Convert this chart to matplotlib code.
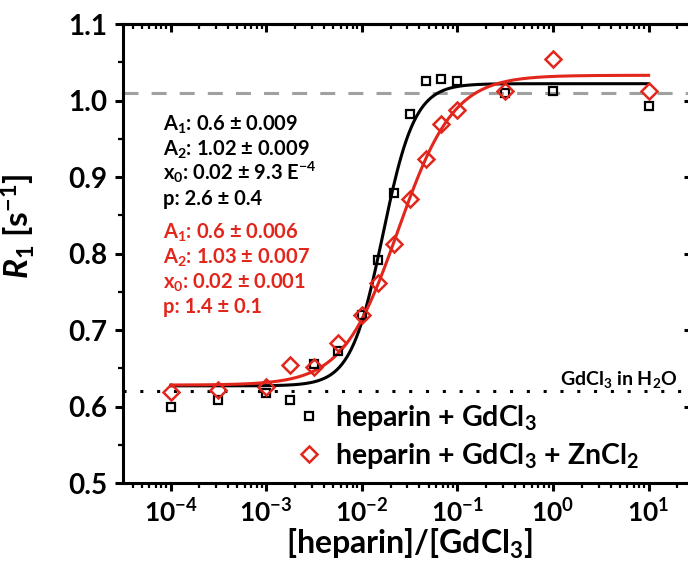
import matplotlib
matplotlib.use("Agg")
import matplotlib.pyplot as plt
from matplotlib.ticker import LogLocator, FixedLocator, MultipleLocator, FuncFormatter, NullFormatter
import numpy as np

plt.rcParams['font.family'] = ['Lato', 'DejaVu Sans']
plt.rcParams['font.weight'] = 'bold'
plt.rcParams['axes.labelweight'] = 'bold'
plt.rcParams['mathtext.fontset'] = 'custom'
plt.rcParams['mathtext.rm'] = 'Lato:bold'
plt.rcParams['mathtext.bf'] = 'Lato:bold'
plt.rcParams['mathtext.it'] = 'Lato:bold:italic'
plt.rcParams['mathtext.default'] = 'bf'

# Step 1: data
ratio = [1e-4, 3.16e-4, 1e-3, 1.78e-3, 3.16e-3, 5.62e-3, 0.01, 0.0147,
         0.0215, 0.0316, 0.0464, 0.0681, 0.1, 0.316, 1.0, 10.0]
r1_gd = [0.600, 0.609, 0.618, 0.609, 0.655, 0.672, 0.720, 0.792,
         0.879, 0.982, 1.025, 1.028, 1.025, 1.010, 1.013, 0.993]
r1_gd_zn = [0.619, 0.622, 0.626, 0.654, 0.651, 0.683, 0.720, 0.761,
            0.812, 0.871, 0.924, 0.969, 0.988, 1.012, 1.054, 1.013]

# fit parameters (A1, A2, x0, p) of the logistic curves
fit_gd = (0.627, 1.022, 0.0166, 2.6)
fit_gd_zn = (0.628, 1.033, 0.024, 1.5)

level_h2o = 0.62
level_top = 1.01

text_gd = [r'$A_1$: 0.6 ± 0.009', r'$A_2$: 1.02 ± 0.009',
           r'$x_0$: 0.02 ± 9.3 E$^{-4}$', 'p: 2.6 ± 0.4']
text_gd_zn = [r'$A_1$: 0.6 ± 0.006', r'$A_2$: 1.03 ± 0.007',
              r'$x_0$: 0.02 ± 0.001', 'p: 1.4 ± 0.1']

red = '#e2261c'


def logistic(x, a1, a2, x0, p):
    return a2 + (a1 - a2) / (1 + (x / x0) ** p)


# Step 2: plot
fig = plt.figure(figsize=(6.88, 5.64), dpi=100)
ax = fig.add_axes([0.1785, 0.1436, 0.8337, 0.8138])

ax.axhline(level_top, color='#a0a0a0', lw=2.2, ls=(0, (4.9, 4.3)), zorder=1)
ax.axhline(level_h2o, color='black', lw=2.2, ls=(0, (1, 4.5)), zorder=1)

xs = np.logspace(-4, 1, 400)
ax.plot(xs, logistic(xs, *fit_gd), color='black', lw=2.2, zorder=2)
ax.plot(xs, logistic(xs, *fit_gd_zn), color=red, lw=2.2, zorder=2)

ax.plot(ratio, r1_gd, ls='none', marker='s', ms=6, mfc='none', mec='black',
        mew=1.6, label=r'heparin + GdCl$_3$', zorder=3)
ax.plot(ratio, r1_gd_zn, ls='none', marker='D', ms=8, mfc='none', mec=red,
        mew=1.8, label=r'heparin + GdCl$_3$ + ZnCl$_2$', zorder=4)

ax.set_xscale('log')
ax.set_xlim(10 ** -4.5, 10 ** 1.5)
ax.set_ylim(0.5, 1.1)

ax.xaxis.set_major_locator(FixedLocator([1e-4, 1e-3, 1e-2, 1e-1, 1, 10]))
ax.xaxis.set_minor_locator(LogLocator(base=10, subs=np.arange(2, 10), numticks=20))
ax.xaxis.set_minor_formatter(NullFormatter())
ax.xaxis.set_major_formatter(FuncFormatter(lambda v, pos: r'$10^{%d}$' % round(np.log10(v))))
ax.yaxis.set_major_locator(MultipleLocator(0.1))
ax.yaxis.set_minor_locator(MultipleLocator(0.05))
ax.yaxis.set_major_formatter(FuncFormatter(lambda v, pos: '%.1f' % v))

for s in ax.spines.values():
    s.set_linewidth(2.2)

ax.tick_params(axis='both', which='major', direction='out', length=6, width=2.2, pad=5)
ax.tick_params(axis='both', which='minor', direction='out', length=3.5, width=1.6)
ax.tick_params(axis='x', labelsize=19)
ax.tick_params(axis='y', labelsize=20)

top = ax.secondary_xaxis('top')
top.set_xticks([1e-4, 1e-3, 1e-2, 1e-1, 1, 10])
top.xaxis.set_minor_locator(LogLocator(base=10, subs=np.arange(2, 10), numticks=20))
top.tick_params(which='major', direction='in', length=6, width=2.2, labeltop=False)
top.tick_params(which='minor', direction='in', length=3.5, width=1.6)
top.spines['top'].set_linewidth(2.2)

right = ax.secondary_yaxis('right')
right.set_yticks([0.5, 0.6, 0.7, 0.8, 0.9, 1.0, 1.1])
right.tick_params(direction='in', length=9, width=2.2, labelright=False)
right.spines['right'].set_linewidth(2.2)

ax.set_xlabel(r'[heparin]/[GdCl$_3$]', fontsize=23, labelpad=0)
ax.set_ylabel(r'$\mathit{R}_1$ [s$^{-1}$]', fontsize=24)
ax.yaxis.set_label_coords(-0.15, 0.56)

# fit parameter boxes
y_gd = [0.767, 0.7135, 0.660, 0.6057]
y_zn = [0.5316, 0.4786, 0.4242, 0.3697]
for s, yy in zip(text_gd, y_gd):
    ax.text(0.0697, yy, s, transform=ax.transAxes, fontsize=14.5, color='black', va='baseline')
for s, yy in zip(text_gd_zn, y_zn):
    ax.text(0.0697, yy, s, transform=ax.transAxes, fontsize=14.5, color=red, va='baseline')

ax.text(0.968, 0.214, r'GdCl$_3$ in H$_2$O', transform=ax.transAxes, fontsize=14,
        ha='right', va='baseline')

ax.legend(loc='upper left', bbox_to_anchor=(0.28, 0.205), frameon=False, fontsize=20.5,
          handlelength=0.8, handletextpad=0.5, labelspacing=0.28, borderpad=0)

fig.savefig('out.png', dpi=100)
